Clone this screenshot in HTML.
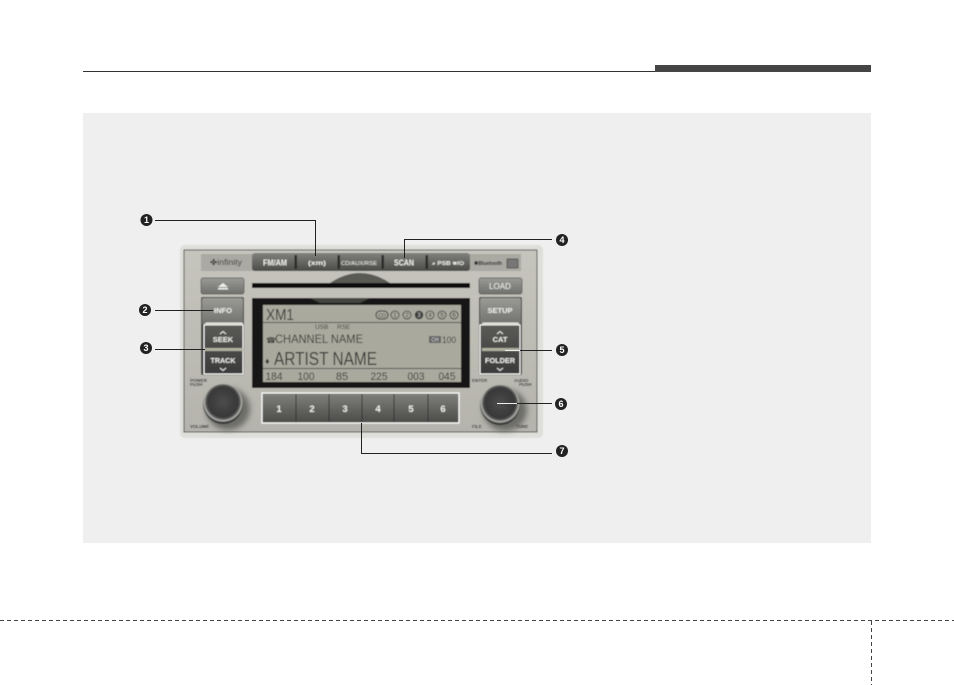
<!DOCTYPE html>
<html><head><meta charset="utf-8"><style>
html,body{margin:0;padding:0;background:#fff}
svg{display:block}
text{font-family:"Liberation Sans",sans-serif}
</style></head><body>
<svg width="954" height="685" viewBox="0 0 954 685" xmlns="http://www.w3.org/2000/svg">
<defs>
<linearGradient id="body" x1="0" y1="0" x2="0" y2="1"><stop offset="0" stop-color="#c6c5bd"/><stop offset="1" stop-color="#b5b4ac"/></linearGradient>
<linearGradient id="btn" x1="0" y1="0" x2="0" y2="1"><stop offset="0" stop-color="#81817d"/><stop offset="1" stop-color="#4a4a48"/></linearGradient>
<linearGradient id="btn2" x1="0" y1="0" x2="0" y2="1"><stop offset="0" stop-color="#5a5a57"/><stop offset="1" stop-color="#3a3a39"/></linearGradient>
<linearGradient id="btn3" x1="0" y1="0" x2="0" y2="1"><stop offset="0" stop-color="#9a9a96"/><stop offset="1" stop-color="#70706c"/></linearGradient>
<radialGradient id="knob" cx=".5" cy=".45" r=".52"><stop offset="0" stop-color="#4c4c4c"/><stop offset=".72" stop-color="#383838"/><stop offset=".82" stop-color="#5a5a5a"/><stop offset=".9" stop-color="#b5b5b0"/><stop offset="1" stop-color="#2c2c2c"/></radialGradient>
<filter id="s" x="-5%" y="-5%" width="110%" height="110%"><feGaussianBlur stdDeviation="0.5"/></filter>
<filter id="sh" x="-30%" y="-30%" width="160%" height="160%"><feGaussianBlur stdDeviation="3"/></filter>
</defs>

<line x1="83" y1="71.5" x2="655" y2="71.5" stroke="#333" stroke-width="1"/>
<rect x="655" y="65" width="216" height="7" fill="#454545"/>
<rect x="83" y="113" width="788" height="430" fill="#efefef"/>

<line x1="0" y1="620.5" x2="954" y2="620.5" stroke="#444" stroke-width="1" stroke-dasharray="4 3"/>
<line x1="871.5" y1="621" x2="871.5" y2="685" stroke="#444" stroke-width="1" stroke-dasharray="4 3"/>

<g filter="url(#s)">
<rect x="180" y="245" width="363" height="193" rx="5" fill="#dededa"/>
<rect x="184" y="250" width="353" height="182" fill="url(#body)" stroke="#4a4a48" stroke-width="1"/>
<rect x="201" y="254" width="320" height="17" fill="#aaa9a2"/>
<text x="210" y="265" font-size="8" fill="#333" textLength="32" lengthAdjust="spacingAndGlyphs">✤infinity</text>
<rect x="252" y="253" width="218" height="18" rx="3" fill="url(#btn)"/>
<g fill="#2a2a2a"><rect x="294.500" y="255" width="2.500" height="14" rx="1"/><rect x="337.500" y="255" width="2.500" height="14" rx="1"/><rect x="381.500" y="255" width="2.500" height="14" rx="1"/><rect x="425.500" y="255" width="2.500" height="14" rx="1"/></g>
<g fill="#eeeeea" font-weight="bold">
<text x="263" y="265.500" font-size="8" textLength="24" lengthAdjust="spacingAndGlyphs">FM/AM</text>
<text x="308" y="265" font-size="6" textLength="18" lengthAdjust="spacingAndGlyphs">(xm)</text>
<text x="341" y="265" font-size="5.500" font-weight="normal" textLength="36" lengthAdjust="spacingAndGlyphs">CD/AUX/RSE</text>
<text x="394" y="265.500" font-size="8" textLength="20" lengthAdjust="spacingAndGlyphs">SCAN</text>
<text x="432" y="265" font-size="5" textLength="32" lengthAdjust="spacingAndGlyphs">⌕ PSB ☏/⏻</text>
</g>
<text x="474" y="265" font-size="5.500" font-weight="bold" fill="#222" textLength="28" lengthAdjust="spacingAndGlyphs">✱Bluetooth</text>
<rect x="507" y="259" width="11" height="9" fill="#777" stroke="#444" stroke-width=".7"/>

<rect x="201" y="278" width="43" height="16" rx="2" fill="url(#btn3)" stroke="#555" stroke-width=".7"/>
<path d="M218 287l5-4 5 4zM218 288h10v1.500h-10z" fill="#eee"/>
<rect x="479" y="278" width="43" height="16" rx="2" fill="url(#btn3)" stroke="#555" stroke-width=".7"/>
<text x="500" y="289" font-size="8" fill="#f2f2ee" text-anchor="middle">LOAD</text>
<path d="M330 283q30-20 60 0z" fill="#5a5a54"/>
<path d="M252 283h218v5h-218z" fill="#111"/>

<rect x="201" y="297" width="43" height="78" rx="2" fill="#3f3f3d"/>
<rect x="202" y="298" width="41" height="27" rx="2" fill="url(#btn3)"/>
<rect x="204" y="325" width="39" height="49" fill="url(#btn2)" stroke="#fff" stroke-width="1"/>
<rect x="205" y="322.500" width="38" height="3" rx="1.500" fill="#e2e2dc"/>
<rect x="205" y="348" width="38" height="3" fill="#b0b0a0"/>
<g fill="#eeeeea" font-weight="bold" text-anchor="middle">
<text x="223" y="313" font-size="7.500">INFO</text>
<text x="223" y="342" font-size="7.500">SEEK</text>
<text x="223" y="363" font-size="7.500" textLength="25" lengthAdjust="spacingAndGlyphs">TRACK</text>
<path d="M220 334l3-2.500 3 2.500" fill="none" stroke="#eee"/>
<path d="M220 368l3 2.500 3-2.500" fill="none" stroke="#eee"/>
</g>

<rect x="479" y="297" width="43" height="78" rx="2" fill="#3f3f3d"/>
<rect x="480" y="298" width="41" height="27" rx="2" fill="url(#btn3)"/>
<rect x="480" y="325" width="40" height="49" fill="url(#btn2)" stroke="#fff" stroke-width="1"/>
<rect x="482" y="322.500" width="37" height="3" rx="1.500" fill="#e2e2dc"/>
<rect x="482" y="348" width="37" height="3" fill="#b0b0a0"/>
<g fill="#eeeeea" font-weight="bold" text-anchor="middle">
<text x="500" y="313" font-size="7.500">SETUP</text>
<text x="500" y="342" font-size="7.500">CAT</text>
<text x="500" y="363" font-size="7.500" textLength="30" lengthAdjust="spacingAndGlyphs">FOLDER</text>
<path d="M497 334l3-2.500 3 2.500" fill="none" stroke="#eee"/>
<path d="M497 368l3 2.500 3-2.500" fill="none" stroke="#eee"/>
</g>

<rect x="252" y="298" width="218" height="90" fill="#141414"/>
<path d="M310 298h60l-10 5h-40z" fill="#444440"/>
<rect x="263" y="305" width="198" height="77" fill="#a9a99d"/>
<line x1="263" y1="322.500" x2="461" y2="322.500" stroke="#555"/>
<line x1="263" y1="368.500" x2="461" y2="368.500" stroke="#555"/>
<g fill="#3a3a38">
<text x="266" y="320" font-size="16" textLength="28" lengthAdjust="spacingAndGlyphs">XM1</text>
<text x="315" y="329" font-size="6.500">USB</text>
<text x="337" y="329" font-size="6.500">RSE</text>
<text x="266" y="343" font-size="8">☎</text>
<text x="275" y="343" font-size="12" textLength="88" lengthAdjust="spacingAndGlyphs">CHANNEL NAME</text>
<rect x="429" y="336" width="12" height="7" fill="#666"/>
<text x="435" y="341.500" font-size="5" fill="#ddd" text-anchor="middle">CH</text>
<text x="442" y="343" font-size="9.500" textLength="14" lengthAdjust="spacingAndGlyphs">100</text>
<text x="265" y="364" font-size="9">♦</text>
<text x="274" y="365" font-size="18" textLength="103" lengthAdjust="spacingAndGlyphs">ARTIST NAME</text>
<g font-size="11" text-anchor="middle">
<text x="274" y="380" textLength="17" lengthAdjust="spacingAndGlyphs">184</text><text x="306" y="380" textLength="17" lengthAdjust="spacingAndGlyphs">100</text><text x="342" y="380">85</text><text x="379" y="380" textLength="17" lengthAdjust="spacingAndGlyphs">225</text><text x="416" y="380" textLength="17" lengthAdjust="spacingAndGlyphs">003</text><text x="447" y="380" textLength="17" lengthAdjust="spacingAndGlyphs">045</text>
</g>
<rect x="376" y="311" width="12" height="8" rx="4" fill="none" stroke="#333"/>
<text x="382" y="317.500" font-size="5" text-anchor="middle">CD</text>
<g fill="none" stroke="#333" stroke-width=".8">
<circle cx="395" cy="315" r="4"/><circle cx="407" cy="315" r="4"/><circle cx="430" cy="315" r="4"/><circle cx="442" cy="315" r="4"/><circle cx="454" cy="315" r="4"/>
</g>
<circle cx="419" cy="315" r="4.200"/>
<g font-size="6" text-anchor="middle">
<text x="395" y="317">1</text><text x="407" y="317">2</text><text x="419" y="317" fill="#ccc">3</text><text x="430" y="317">4</text><text x="442" y="317">5</text><text x="454" y="317">6</text>
</g>
</g>

<rect x="262" y="393" width="197" height="30" fill="url(#btn)" stroke="#fff" stroke-width="1.200"/>
<g stroke="#333" stroke-width="1"><line x1="296" y1="394" x2="296" y2="422"/><line x1="329" y1="394" x2="329" y2="422"/><line x1="362" y1="394" x2="362" y2="422"/><line x1="394" y1="394" x2="394" y2="422"/><line x1="428" y1="394" x2="428" y2="422"/></g>
<g fill="#eeeeea" font-size="9.500" font-weight="bold" text-anchor="middle">
<text x="279" y="412">1</text><text x="312" y="412">2</text><text x="345" y="412">3</text><text x="378" y="412">4</text><text x="411" y="412">5</text><text x="443" y="412">6</text>
</g>

<ellipse cx="228" cy="409" rx="22" ry="21" fill="#6c6c68" filter="url(#sh)"/>
<circle cx="223" cy="404" r="20" fill="url(#knob)"/>
<ellipse cx="505" cy="410" rx="22" ry="21" fill="#6c6c68" filter="url(#sh)"/>
<circle cx="500" cy="405" r="20" fill="url(#knob)"/>
<g fill="#333" font-size="4.500" font-weight="bold">
<text x="190" y="382">POWER</text><text x="190" y="386">PUSH</text>
<text x="190" y="428">VOLUME</text>
<text x="472" y="382">ENTER</text>
<text x="514" y="382">AUDIO</text><text x="519" y="386">PUSH</text>
<text x="472" y="428">FILE</text><text x="516" y="428">TUNE</text>
</g>
</g>

<g stroke="#222" stroke-width="1" fill="none">
<path d="M155 220.500H315.500V256"/>
<path d="M155 310.500H213"/>
<path d="M155 349.500H205"/>
<path d="M404.500 258V239.500H552"/>
<path d="M520 350.500H552"/>
<path d="M517 403.500H552"/>
<path d="M361.500 423V453.500H552"/>
</g>
<g stroke="#eee" stroke-width="1"><path d="M497 403.500H517"/><path d="M505 350.500H520"/></g>
<g fill="#222">
<circle cx="146.500" cy="220" r="6"/><circle cx="145" cy="310" r="6"/><circle cx="146" cy="348" r="6"/><circle cx="562" cy="240" r="6"/><circle cx="562" cy="350" r="6"/><circle cx="561" cy="404" r="6"/><circle cx="562" cy="451" r="6"/>
</g>
<g fill="#fff" font-size="9" font-weight="bold" text-anchor="middle">
<text x="146.500" y="223">1</text><text x="145" y="313">2</text><text x="146" y="351">3</text><text x="562" y="243">4</text><text x="562" y="353">5</text><text x="561" y="407">6</text><text x="562" y="454">7</text>
</g>
</svg>
</body></html>
